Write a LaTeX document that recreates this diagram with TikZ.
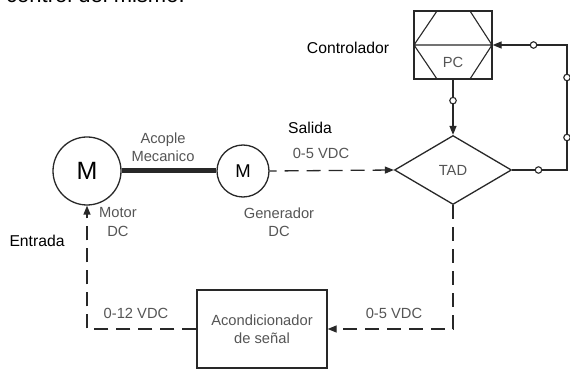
\documentclass[tikz,border=0pt]{standalone}
\usepackage{fontspec}
\setmainfont{Liberation Sans}
\usetikzlibrary{arrows.meta,shapes.geometric}
\definecolor{ln}{RGB}{40,40,40}
\definecolor{gt}{RGB}{85,85,85}
\begin{document}
\begin{tikzpicture}[x=1pt,y=-1pt,
  conn/.style={draw=ln, line width=1.3pt},
  dsh/.style={conn, dash pattern=on 14pt off 8pt},
  tip/.style={-{Triangle[length=9pt,width=7pt]}},
  ocirc/.style={circle, draw=ln, fill=white, line width=1.1pt, inner sep=0pt, minimum size=6.5pt},
  blk/.style={font=\fontsize{15.7}{19}\selectfont, text=black, inner sep=0pt},
  gry/.style={font=\fontsize{14.7}{18.5}\selectfont, text=gt, inner sep=0pt, align=center},
  ]
\useasboundingbox (0,0) rectangle (570,371);
\fill[white] (0,0) rectangle (570,371);

% clipped heading
\node[anchor=base west, inner sep=0pt, font=\fontsize{22}{22}\selectfont] (head) at (6,3) {control del mismo.};

% PC box
\node[draw=ln, line width=1.3pt, minimum width=78pt, minimum height=68pt, inner sep=0pt,
  path picture={\draw[ln,line width=1.1pt]
    ([xshift=23pt]path picture bounding box.north west) -- (path picture bounding box.west) -- ([xshift=23pt]path picture bounding box.south west)
    ([xshift=-22pt]path picture bounding box.north east) -- (path picture bounding box.east) -- ([xshift=-22pt]path picture bounding box.south east)
    (path picture bounding box.west) -- (path picture bounding box.east);}] (pc) at (453,45) {};
\node[gry] (pclbl) at (453,62) {PC};
\node[blk] (ctrl) at (348,48) {Controlador};

% TAD
\node[diamond, draw=ln, line width=1.3pt, minimum width=117pt, minimum height=69pt, aspect=1.7, inner sep=0pt, gry] (tad) at (453,170) {TAD};

% motor & generator
\node[circle, draw=ln, line width=1.3pt, minimum size=68pt, inner sep=0pt, font=\fontsize{25}{25}\selectfont] (mot) at (87,171) {M};
\node[circle, draw=ln, line width=1.3pt, minimum size=52pt, inner sep=0pt, font=\fontsize{18.5}{18.5}\selectfont] (gen) at (243,171) {M};

% conditioner
\node[draw=ln, line width=1.3pt, minimum width=130pt, minimum height=78pt, inner sep=0pt, gry] (acon) at (262,329) {Acondicionador\\de señal};

% labels
\node[gry] (acople) at (163,147) {Acople\\Mecanico};
\node[gry] (motl) at (118,222) {Motor\\DC};
\node[gry] (genl) at (279,222) {Generador\\DC};
\node[blk] (sal) at (310,128) {Salida};
\node[gry] (v1) at (321,153) {0-5 VDC};
\node[blk] (ent) at (37,241) {Entrada};
\node[gry] (v2) at (136,313) {0-12 VDC};
\node[gry] (v3) at (394,313) {0-5 VDC};

% connectors
\draw[ln, line width=5pt] (mot.east) -- (gen.west);
\draw[dsh, tip, dash phase=7pt] (gen.east) -- (tad.west);
\draw[conn, tip] (pc.south) -- node[ocirc, pos=0.38]{} (tad.north);

\coordinate (c1) at (567,170);
\coordinate (c2) at (567,45);
\draw[conn, tip] (tad.east) -- node[ocirc, pos=0.48]{} (c1)
  -- node[ocirc, pos=0.26]{} node[ocirc, pos=0.74]{} (c2)
  -- node[ocirc, pos=0.45]{} (pc.east);

\coordinate (c3) at (453,329);
\draw[dsh, tip] (tad.south) -- (c3) -- (acon.east);
\coordinate (c4) at (87,329);
\draw[dsh, tip] (acon.west) -- (c4) -- (mot.south);
\end{tikzpicture}
\end{document}
